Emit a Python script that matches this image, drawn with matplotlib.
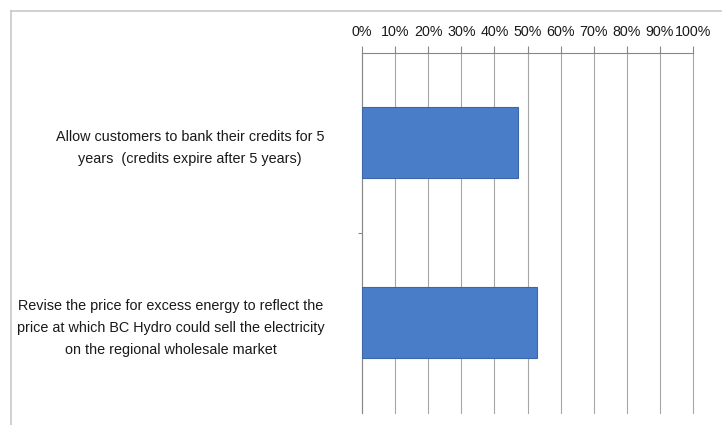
import matplotlib
matplotlib.use("Agg")
import matplotlib.pyplot as plt
from matplotlib.lines import Line2D
import numpy as np

categories = [
    "Allow customers to bank their credits for 5\nyears  (credits expire after 5 years)",
    "Revise the price for excess energy to reflect the\nprice at which BC Hydro could sell the electricity\non the regional wholesale market",
]
values = [47, 53]
xticks = [0, 10, 20, 30, 40, 50, 60, 70, 80, 90, 100]
xticklabels = [f"{v}%" for v in xticks]

plt.rcParams['font.family'] = ['Liberation Sans', 'DejaVu Sans']

W, H = 722, 425
fig = plt.figure(figsize=(W / 100, H / 100), dpi=100)
fig.patch.set_facecolor("white")

left, right, top, bottom = 362, 693, 52.5, 412.5
ax = fig.add_axes([left / W, 1 - bottom / H, (right - left) / W, (bottom - top) / H])

y = np.arange(len(categories))
ax.barh(y, values, height=0.39, color="#4A7DC8", edgecolor="#3B67A8", linewidth=0.8, zorder=3)

ax.set_xlim(0, 100)
ax.set_ylim(len(categories) - 0.5, -0.5)

ax.xaxis.tick_top()
ax.set_xticks(xticks)
ax.set_xticklabels(xticklabels, fontsize=10.3, color="#1a1a1a")
ax.tick_params(axis="x", which="major", direction="out", length=5, width=0.8,
               color="#888888", pad=5)
ax.grid(axis="x", color="#a6a6a6", linewidth=0.8, zorder=0)
for gl in ax.get_xgridlines():
    gl.set_clip_on(False)

ax.set_yticks(y)
ax.set_yticklabels(categories, fontsize=10.4, color="#1a1a1a", multialignment="center",
                   linespacing=1.72)
ax.tick_params(axis="y", which="major", length=0, pad=27)
ax.set_yticks([0.5], minor=True)
ax.tick_params(axis="y", which="minor", length=3, width=0.8, color="#888888")

for s in ["right", "bottom"]:
    ax.spines[s].set_visible(False)
for s in ["left", "top"]:
    ax.spines[s].set_color("#888888")
    ax.spines[s].set_linewidth(0.8)

# outer chart frame (left and top edges visible)
fig.add_artist(Line2D([10.5 / W, 10.5 / W], [0, 1 - 10.5 / H], transform=fig.transFigure,
                      color="#c8c8c8", linewidth=1.2))
fig.add_artist(Line2D([10.5 / W, 1], [1 - 10.5 / H, 1 - 10.5 / H], transform=fig.transFigure,
                      color="#c8c8c8", linewidth=1.2))

fig.savefig("out.png", dpi=100, facecolor="white")
